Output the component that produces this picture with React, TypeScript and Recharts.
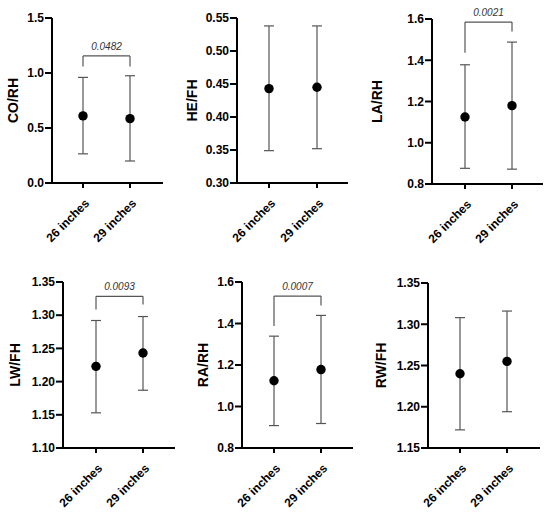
import React from 'react';
import { ComposedChart, Scatter, ErrorBar, XAxis, YAxis, ReferenceLine, Label } from 'recharts';

const categories = ['26 inches', '29 inches'];

// mean, lower and upper end of the error bar for each group
const coRhMean = [0.61, 0.585];
const coRhLow = [0.265, 0.2];
const coRhHigh = [0.96, 0.975];

const heFhMean = [0.443, 0.445];
const heFhLow = [0.349, 0.352];
const heFhHigh = [0.538, 0.538];

const laRhMean = [1.125, 1.18];
const laRhLow = [0.876, 0.872];
const laRhHigh = [1.378, 1.488];

const lwFhMean = [1.223, 1.243];
const lwFhLow = [1.153, 1.187];
const lwFhHigh = [1.292, 1.298];

const raRhMean = [1.124, 1.178];
const raRhLow = [0.908, 0.918];
const raRhHigh = [1.339, 1.439];

const rwFhMean = [1.24, 1.255];
const rwFhLow = [1.172, 1.194];
const rwFhHigh = [1.308, 1.316];

const coRhTicks = [0, 0.5, 1.0, 1.5];
const heFhTicks = [0.3, 0.35, 0.4, 0.45, 0.5, 0.55];
const laRhTicks = [0.8, 1.0, 1.2, 1.4, 1.6];
const lwFhTicks = [1.1, 1.15, 1.2, 1.25, 1.3, 1.35];
const raRhTicks = [0.8, 1.0, 1.2, 1.4, 1.6];
const rwFhTicks = [1.15, 1.2, 1.25, 1.3, 1.35];

// p-value brackets: label, bracket height, left leg end, right leg end
const coRhBracket = { p: '0.0482', top: 1.155, left: 1.06, right: 1.06 };
const laRhBracket = { p: '0.0021', top: 1.585, left: 1.436, right: 1.54 };
const lwFhBracket = { p: '0.0093', top: 1.3285, left: 1.3085, right: 1.316 };
const raRhBracket = { p: '0.0007', top: 1.532, left: 1.388, right: 1.487 };

const FONT = '"Liberation Sans", Arial, Helvetica, sans-serif';

const buildRows = (mean: number[], low: number[], high: number[]) =>
  categories.map((name, i) => ({
    name,
    mean: mean[i],
    err: [mean[i] - low[i], high[i] - mean[i]],
  }));

const XTick = (props: any) => {
  const { x, y, payload } = props;
  return (
    <g transform={`translate(${x + 4},${y + 11})`}>
      <text
        x={0}
        y={0}
        dy="0.35em"
        textAnchor="end"
        transform="rotate(-45)"
        fontFamily={FONT}
        fontWeight="bold"
        fontSize={12}
        fill="#000"
      >
        {payload.value}
      </text>
    </g>
  );
};

const Dot = (props: any) => <circle cx={props.cx} cy={props.cy} r={4.7} fill="#000" />;

interface Bracket {
  p: string;
  top: number;
  left: number;
  right: number;
}

interface PanelProps {
  left: number;
  top: number;
  width: number;
  height: number;
  margin: { top: number; right: number; bottom: number; left: number };
  yWidth: number;
  xHeight: number;
  xPad: { left: number; right: number };
  labelGap: number;
  name: string;
  domain: [number, number];
  ticks: number[];
  digits: number;
  mean: number[];
  low: number[];
  high: number[];
  bracket?: Bracket;
}

const Panel = (p: PanelProps) => {
  const data = buildRows(p.mean, p.low, p.high);
  const [c1, c2] = categories;
  return (
    <div style={{ position: 'absolute', left: p.left, top: p.top }}>
      <ComposedChart width={p.width} height={p.height} data={data} margin={p.margin}>
        <XAxis
          dataKey="name"
          type="category"
          height={p.xHeight}
          padding={p.xPad}
          axisLine={{ stroke: '#000', strokeWidth: 2 }}
          tickLine={{ stroke: '#000', strokeWidth: 2 }}
          tickSize={5}
          tick={<XTick />}
          interval={0}
        />
        <YAxis
          type="number"
          domain={p.domain}
          ticks={p.ticks}
          width={p.yWidth}
          interval={0}
          tickFormatter={(v: number) => v.toFixed(p.digits)}
          axisLine={{ stroke: '#000', strokeWidth: 2 }}
          tickLine={{ stroke: '#000', strokeWidth: 2 }}
          tickSize={7}
          tickMargin={1}
          tick={{ fontFamily: FONT, fontWeight: 'bold', fontSize: 12, fill: '#000' }}
        >
          <Label
            value={p.name}
            angle={-90}
            position="center"
            dx={p.yWidth / 2 - p.labelGap}
            style={{ fontFamily: FONT, fontWeight: 'bold', fontSize: 14, fill: '#000', textAnchor: 'middle' }}
          />
        </YAxis>
        {p.bracket && (
          <ReferenceLine
            segment={[{ x: c1, y: p.bracket.top }, { x: c2, y: p.bracket.top }]}
            stroke="#555"
            strokeWidth={1.2}
            ifOverflow="visible"
          >
            <Label
              value={p.bracket.p}
              position="top"
              offset={6}
              style={{ fontFamily: FONT, fontStyle: 'italic', fontSize: 10, fill: '#333' }}
            />
          </ReferenceLine>
        )}
        {p.bracket && (
          <ReferenceLine
            segment={[{ x: c1, y: p.bracket.top }, { x: c1, y: p.bracket.left }]}
            stroke="#555"
            strokeWidth={1.2}
            ifOverflow="visible"
          />
        )}
        {p.bracket && (
          <ReferenceLine
            segment={[{ x: c2, y: p.bracket.top }, { x: c2, y: p.bracket.right }]}
            stroke="#555"
            strokeWidth={1.2}
            ifOverflow="visible"
          />
        )}
        <Scatter dataKey="mean" shape={<Dot />} isAnimationActive={false}>
          <ErrorBar dataKey="err" direction="y" width={5} stroke="#555" strokeWidth={1.2} isAnimationActive={false} />
        </Scatter>
      </ComposedChart>
    </div>
  );
};

export default function App() {
  return (
    <div style={{ position: 'absolute', left: 0, top: 0, width: 550, height: 512, background: '#fff' }}>
      <Panel
        left={0} top={0} width={180} height={256}
        margin={{ top: 18, right: 17, bottom: 0, left: 0 }}
        yWidth={52} xHeight={73} xPad={{ left: 31, right: 33 }} labelGap={39}
        name="CO/RH" domain={[0, 1.5]} ticks={coRhTicks} digits={1}
        mean={coRhMean} low={coRhLow} high={coRhHigh} bracket={coRhBracket}
      />
      <Panel
        left={180} top={0} width={180} height={256}
        margin={{ top: 18, right: 12, bottom: 0, left: 0 }}
        yWidth={57} xHeight={73} xPad={{ left: 32, right: 31 }} labelGap={45}
        name="HE/FH" domain={[0.3, 0.55]} ticks={heFhTicks} digits={2}
        mean={heFhMean} low={heFhLow} high={heFhHigh}
      />
      <Panel
        left={360} top={0} width={190} height={256}
        margin={{ top: 19, right: 7, bottom: 0, left: 0 }}
        yWidth={72} xHeight={72} xPad={{ left: 33, right: 31 }} labelGap={55}
        name="LA/RH" domain={[0.8, 1.6]} ticks={laRhTicks} digits={1}
        mean={laRhMean} low={laRhLow} high={laRhHigh} bracket={laRhBracket}
      />
      <Panel
        left={0} top={256} width={180} height={256}
        margin={{ top: 26, right: 5, bottom: 0, left: 0 }}
        yWidth={63} xHeight={64} xPad={{ left: 33, right: 32 }} labelGap={48}
        name="LW/FH" domain={[1.1, 1.35]} ticks={lwFhTicks} digits={2}
        mean={lwFhMean} low={lwFhLow} high={lwFhHigh} bracket={lwFhBracket}
      />
      <Panel
        left={180} top={256} width={180} height={256}
        margin={{ top: 26, right: 7, bottom: 0, left: 0 }}
        yWidth={62} xHeight={64} xPad={{ left: 32, right: 32 }} labelGap={39}
        name="RA/RH" domain={[0.8, 1.6]} ticks={raRhTicks} digits={1}
        mean={raRhMean} low={raRhLow} high={raRhHigh} bracket={raRhBracket}
      />
      <Panel
        left={360} top={256} width={190} height={256}
        margin={{ top: 27, right: 10, bottom: 0, left: 0 }}
        yWidth={68} xHeight={64} xPad={{ left: 32, right: 33 }} labelGap={47}
        name="RW/FH" domain={[1.15, 1.35]} ticks={rwFhTicks} digits={2}
        mean={rwFhMean} low={rwFhLow} high={rwFhHigh}
      />
    </div>
  );
}
